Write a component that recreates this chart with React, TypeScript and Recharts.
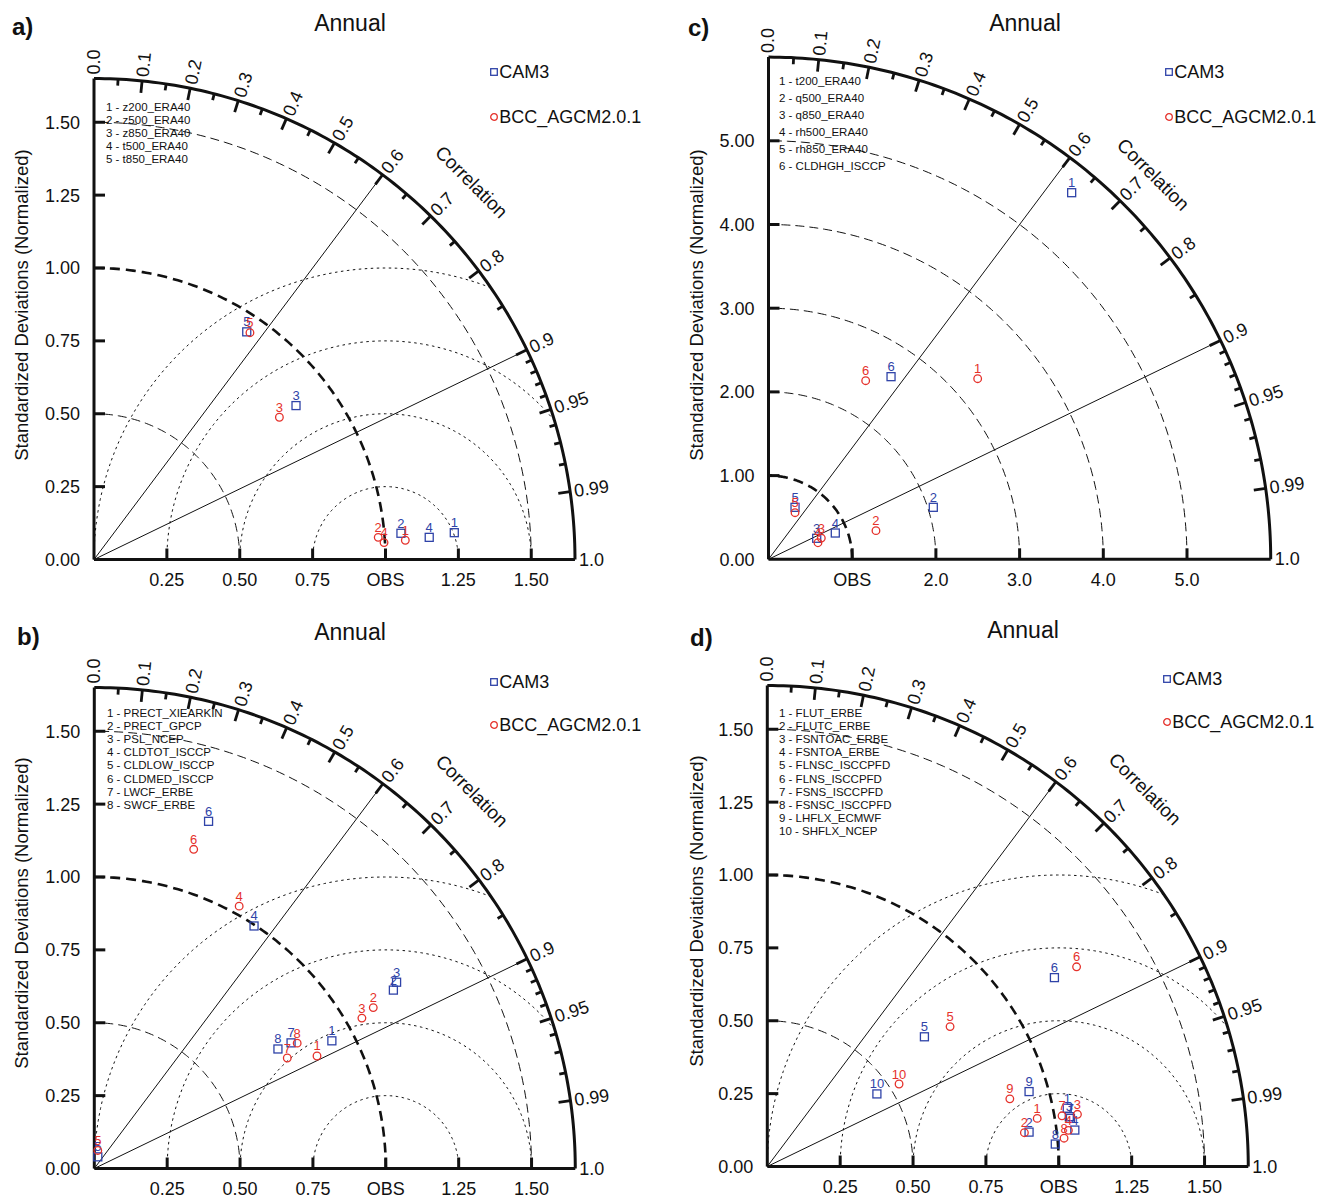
import React from "react";
import { ScatterChart, Scatter, XAxis, YAxis, ReferenceLine } from "recharts";

// =============================================================================
// Data (normalized std dev split into x / y components)
// =============================================================================

const aVariables = ["z200_ERA40", "z500_ERA40", "z850_ERA40", "t500_ERA40", "t850_ERA40"];
const aCam3X = [1.236, 1.053, 0.693, 1.15, 0.524];
const aCam3Y = [0.092, 0.09, 0.528, 0.076, 0.781];
const aBccX = [1.068, 0.975, 0.636, 0.995, 0.535];
const aBccY = [0.066, 0.076, 0.488, 0.058, 0.778];

const bVariables = [
  "PRECT_XIEARKIN",
  "PRECT_GPCP",
  "PSL_NCEP",
  "CLDTOT_ISCCP",
  "CLDLOW_ISCCP",
  "CLDMED_ISCCP",
  "LWCF_ERBE",
  "SWCF_ERBE",
];
const bCam3X = [0.815, 1.026, 1.037, 0.548, 0.012, 0.392, 0.675, 0.63];
const bCam3Y = [0.438, 0.612, 0.639, 0.832, 0.04, 1.191, 0.431, 0.41];
const bBccX = [0.764, 0.957, 0.918, 0.497, 0.012, 0.341, 0.662, 0.696];
const bBccY = [0.386, 0.552, 0.516, 0.9, 0.062, 1.095, 0.379, 0.43];

const cVariables = ["t200_ERA40", "q500_ERA40", "q850_ERA40", "rh500_ERA40", "rh850_ERA40", "CLDHGH_ISCCP"];
const cCam3X = [3.622, 1.969, 0.576, 0.798, 0.317, 1.464];
const cCam3Y = [4.38, 0.621, 0.251, 0.314, 0.621, 2.182];
const cBccX = [2.499, 1.284, 0.631, 0.591, 0.317, 1.161];
const cBccY = [2.158, 0.342, 0.254, 0.198, 0.557, 2.134];

const dVariables = [
  "FLUT_ERBE",
  "FLUTC_ERBE",
  "FSNTOAC_ERBE",
  "FSNTOA_ERBE",
  "FLNSC_ISCCPFD",
  "FLNS_ISCCPFD",
  "FSNS_ISCCPFD",
  "FSNSC_ISCCPFD",
  "LHFLX_ECMWF",
  "SHFLX_NCEP",
];
const dCam3X = [1.029, 0.898, 1.036, 1.055, 0.539, 0.985, 1.04, 0.988, 0.898, 0.376];
const dCam3Y = [0.2, 0.118, 0.171, 0.125, 0.445, 0.648, 0.165, 0.077, 0.257, 0.249];
const dBccX = [0.926, 0.882, 1.064, 1.033, 0.627, 1.061, 1.011, 1.018, 0.832, 0.452];
const dBccY = [0.165, 0.116, 0.179, 0.124, 0.48, 0.685, 0.174, 0.097, 0.232, 0.283];

// axis ticks
const unitXTicks = [0.25, 0.5, 0.75, 1, 1.25, 1.5];
const unitYTicks = [0, 0.25, 0.5, 0.75, 1, 1.25, 1.5];
const wideXTicks = [1, 2, 3, 4, 5];
const wideYTicks = [0, 1, 2, 3, 4, 5];

// correlation ticks on the outer arc
const corrMajor = [0, 0.1, 0.2, 0.3, 0.4, 0.5, 0.6, 0.7, 0.8, 0.9, 0.95, 0.99, 1.0];
const corrMajorLabels = ["0.0", "0.1", "0.2", "0.3", "0.4", "0.5", "0.6", "0.7", "0.8", "0.9", "0.95", "0.99", "1.0"];
const corrMinor = [0.05, 0.15, 0.25, 0.35, 0.45, 0.55, 0.65, 0.75, 0.85, 0.91, 0.92, 0.93, 0.94, 0.96, 0.97, 0.98];
const corrRays = [0.6, 0.9];

// reference arcs
const unitStdArcs = [0.5, 1.5];
const wideStdArcs = [2, 3, 4, 5];
const unitRmsArcs = [0.25, 0.5, 0.75, 1.0];

const seriesNames = ["CAM3", "BCC_AGCM2.0.1"];

// =============================================================================
// Styles
// =============================================================================

const FONT = '"Liberation Sans", Arial, Helvetica, sans-serif';
const INK = "#111";
const CAM3_COLOR = "#2f43a8";
const BCC_COLOR = "#e5312b";
const Y_AXIS_W = 60;
const X_AXIS_H = 28;
const AXIS_TICK_PX = 11;
const DEG = Math.PI / 180;

// =============================================================================
// Geometry helpers
// =============================================================================

type Pt = { x: number; y: number; [k: string]: any };

const clamp = (v: number, lo: number, hi: number) => Math.min(hi, Math.max(lo, v));

function arcPoints(cx: number, r: number, fromDeg: number, toDeg: number, max: number, steps = 140): Pt[] {
  const pts: Pt[] = [];
  for (let i = 0; i <= steps; i++) {
    const t = (fromDeg + ((toDeg - fromDeg) * i) / steps) * DEG;
    pts.push({ x: clamp(cx + r * Math.cos(t), 0, max), y: clamp(r * Math.sin(t), 0, max) });
  }
  return pts;
}

// RMS circle around OBS (1, 0), cut at the outer arc
function rmsArc(rho: number, max: number): Pt[] {
  const c = (max * max - 1 - rho * rho) / (2 * rho);
  const start = c >= 1 ? 0 : Math.acos(c) / DEG;
  return arcPoints(1, rho, start, 180, max);
}

function onArc(corr: number, max: number) {
  const theta = Math.acos(corr);
  return { x: clamp(max * Math.cos(theta), 0, max), y: clamp(max * Math.sin(theta), 0, max), theta };
}

// =============================================================================
// Shapes
// =============================================================================

const NoShape = () => <g />;

// short stroke from a point on the outer arc towards the origin
function ArcTick(props: any) {
  const { cx, cy, payload } = props;
  const t = payload.theta;
  return (
    <line
      x1={cx}
      y1={cy}
      x2={cx - payload.len * Math.cos(t)}
      y2={cy + payload.len * Math.sin(t)}
      stroke={INK}
      strokeWidth={2.8}
    />
  );
}

function CorrLabel(props: any) {
  const { cx, cy, payload } = props;
  const t = payload.theta;
  const x = cx + 4 * Math.cos(t);
  const y = cy - 4 * Math.sin(t);
  return (
    <text
      x={x}
      y={y}
      transform={`rotate(${-t / DEG} ${x} ${y})`}
      textAnchor="start"
      dominantBaseline="central"
      fontSize={18}
      fontFamily={FONT}
      fill={INK}
    >
      {payload.text}
    </text>
  );
}

function CorrTitle(props: any) {
  const { cx, cy, payload } = props;
  const t = payload.theta;
  const x = cx + payload.offset * Math.cos(t);
  const y = cy - payload.offset * Math.sin(t);
  return (
    <text
      x={x}
      y={y}
      transform={`rotate(45 ${x} ${y})`}
      textAnchor="middle"
      dominantBaseline="central"
      fontSize={19}
      fontFamily={FONT}
      fill={INK}
    >
      Correlation
    </text>
  );
}

function ModelMarker(props: any) {
  const { cx, cy, payload } = props;
  const color = payload.color;
  return (
    <g>
      {payload.kind === "square" ? (
        <rect x={cx - 4} y={cy - 4} width={8} height={8} fill="none" stroke={color} strokeWidth={1.3} />
      ) : (
        <circle cx={cx} cy={cy} r={3.8} fill="none" stroke={color} strokeWidth={1.3} />
      )}
      <text x={cx} y={cy - 5.5} textAnchor="middle" fontSize={13} fontFamily={FONT} fill={color}>
        {payload.label}
      </text>
    </g>
  );
}

// =============================================================================
// Panel configuration
// =============================================================================

interface PanelConfig {
  letter: string;
  left: number;
  top: number;
  width: number;
  height: number;
  ox: number;
  oy: number;
  scale: number;
  max: number;
  xTicks: number[];
  yTicks: number[];
  xDigits: number;
  stdArcs: number[];
  rmsArcs: number[];
  corrOffset: number;
  variables: string[];
  cam3X: number[];
  cam3Y: number[];
  bccX: number[];
  bccY: number[];
  listLeft: number;
  listTop: number;
  listStep: number;
  legendX: number;
  legendY: [number, number];
  titleX: number;
  titleY: number;
  letterX: number;
  letterY: number;
  yLabelX: number;
  yLabelY: number;
}

const panels: PanelConfig[] = [
  {
    letter: "a)", left: 0, top: 0, width: 660, height: 600, ox: 94, oy: 559.5, scale: 291.5, max: 1.65,
    xTicks: unitXTicks, yTicks: unitYTicks, xDigits: 2, stdArcs: unitStdArcs, rmsArcs: unitRmsArcs, corrOffset: 53,
    variables: aVariables, cam3X: aCam3X, cam3Y: aCam3Y, bccX: aBccX, bccY: aBccY,
    listLeft: 106, listTop: 107.3, listStep: 13.2, legendX: 494.3, legendY: [72.3, 116.7],
    titleX: 350, titleY: 23, letterX: 12, letterY: 27, yLabelX: 22, yLabelY: 305,
  },
  {
    letter: "c)", left: 660, top: 0, width: 659, height: 600, ox: 768.5, oy: 559.3, scale: 83.7, max: 6,
    xTicks: wideXTicks, yTicks: wideYTicks, xDigits: 1, stdArcs: wideStdArcs, rmsArcs: [], corrOffset: 42,
    variables: cVariables, cam3X: cCam3X, cam3Y: cCam3Y, bccX: cBccX, bccY: cBccY,
    listLeft: 779, listTop: 81.7, listStep: 16.9, legendX: 1169.3, legendY: [72.3, 116.7],
    titleX: 1025, titleY: 23, letterX: 688, letterY: 28, yLabelX: 697, yLabelY: 305,
  },
  {
    letter: "b)", left: 0, top: 600, width: 660, height: 598, ox: 94.3, oy: 1168.5, scale: 291.5, max: 1.65,
    xTicks: unitXTicks, yTicks: unitYTicks, xDigits: 2, stdArcs: unitStdArcs, rmsArcs: unitRmsArcs, corrOffset: 53,
    variables: bVariables, cam3X: bCam3X, cam3Y: bCam3Y, bccX: bBccX, bccY: bBccY,
    listLeft: 107, listTop: 713.3, listStep: 13.2, legendX: 494.3, legendY: [682, 725],
    titleX: 350, titleY: 632, letterX: 17, letterY: 637, yLabelX: 22, yLabelY: 913,
  },
  {
    letter: "d)", left: 660, top: 600, width: 659, height: 598, ox: 767.3, oy: 1166.5, scale: 291.5, max: 1.65,
    xTicks: unitXTicks, yTicks: unitYTicks, xDigits: 2, stdArcs: unitStdArcs, rmsArcs: unitRmsArcs, corrOffset: 53,
    variables: dVariables, cam3X: dCam3X, cam3Y: dCam3Y, bccX: dBccX, bccY: dBccY,
    listLeft: 779, listTop: 713.3, listStep: 13.2, legendX: 1167.3, legendY: [679, 722],
    titleX: 1023, titleY: 630, letterX: 690, letterY: 638, yLabelX: 697, yLabelY: 911,
  },
];

// =============================================================================
// Panel
// =============================================================================

function TaylorPanel({ cfg }: { cfg: PanelConfig }) {
  const { max } = cfg;
  const size = max * cfg.scale;
  const lox = cfg.ox - cfg.left;
  const loy = cfg.oy - cfg.top;
  const margin = {
    left: lox - Y_AXIS_W,
    top: loy - size,
    right: cfg.width - lox - size,
    bottom: cfg.height - loy - X_AXIS_H,
  };
  const tickLen = AXIS_TICK_PX / cfg.scale;

  const outer = arcPoints(0, max, 0, 90, max);
  const rays = corrRays.map((c) => [{ x: 0, y: 0 }, onArc(c, max)]);
  const arcTicks = [
    ...corrMajor.filter((c) => c > 0 && c < 1).map((c) => ({ ...onArc(c, max), len: 12 })),
    ...corrMinor.map((c) => ({ ...onArc(c, max), len: 6.5 })),
  ];
  const corrLabels = corrMajor.map((c, i) => ({ ...onArc(c, max), text: corrMajorLabels[i] }));
  const corrTitle = [{ ...onArc(Math.cos(45 * DEG), max), offset: cfg.corrOffset }];

  const cam3 = cfg.cam3X.map((x, i) => ({ x, y: cfg.cam3Y[i], label: String(i + 1), color: CAM3_COLOR, kind: "square" }));
  const bcc = cfg.bccX.map((x, i) => ({ x, y: cfg.bccY[i], label: String(i + 1), color: BCC_COLOR, kind: "circle" }));

  const xFmt = (v: number) => (Math.abs(v - 1) < 1e-9 ? "OBS" : v.toFixed(cfg.xDigits));
  const yFmt = (v: number) => v.toFixed(2);
  const tickStyle = { fontSize: 18, fill: INK, fontFamily: FONT };

  const line = (strokeWidth: number, dash?: string) => ({
    stroke: INK,
    strokeWidth,
    strokeDasharray: dash,
    fill: "none",
  });

  return (
    <>
      {/* panel letter, title, axis title */}
      <div
        style={{
          position: "absolute", left: cfg.letterX, top: cfg.letterY, transform: "translateY(-50%)",
          fontSize: 24, fontWeight: "bold", lineHeight: 1,
        }}
      >
        {cfg.letter}
      </div>
      <div
        style={{
          position: "absolute", left: cfg.titleX, top: cfg.titleY, transform: "translate(-50%, -50%)",
          fontSize: 23, lineHeight: 1, whiteSpace: "nowrap",
        }}
      >
        Annual
      </div>
      <div
        style={{
          position: "absolute", left: cfg.yLabelX, top: cfg.yLabelY,
          transform: "translate(-50%, -50%) rotate(-90deg)", fontSize: 18.5, lineHeight: 1, whiteSpace: "nowrap",
        }}
      >
        Standardized Deviations (Normalized)
      </div>

      {/* variable key */}
      <div style={{ position: "absolute", left: cfg.listLeft, top: cfg.listTop - cfg.listStep / 2, fontSize: 11.5 }}>
        {cfg.variables.map((v, i) => (
          <div key={v} style={{ height: cfg.listStep, lineHeight: `${cfg.listStep}px`, whiteSpace: "nowrap" }}>
            {`${i + 1} - ${v}`}
          </div>
        ))}
      </div>

      {/* legend */}
      {seriesNames.map((name, i) => (
        <div
          key={name}
          style={{
            position: "absolute", left: cfg.legendX - 4, top: cfg.legendY[i], transform: "translateY(-50%)",
            display: "flex", alignItems: "center", fontSize: 18, lineHeight: 1, whiteSpace: "nowrap",
          }}
        >
          <svg width={8} height={8} style={{ marginRight: 1 }}>
            {i === 0 ? (
              <rect x={0.7} y={0.7} width={6.6} height={6.6} fill="none" stroke={CAM3_COLOR} strokeWidth={1.3} />
            ) : (
              <circle cx={4} cy={4} r={3.3} fill="none" stroke={BCC_COLOR} strokeWidth={1.3} />
            )}
          </svg>
          <span>{name}</span>
        </div>
      ))}

      <div style={{ position: "absolute", left: cfg.left, top: cfg.top }}>
        <ScatterChart width={cfg.width} height={cfg.height} margin={margin} style={{ fontFamily: FONT }}>
          <XAxis
            type="number"
            dataKey="x"
            domain={[0, max]}
            ticks={cfg.xTicks}
            interval={0}
            tickFormatter={xFmt}
            tick={tickStyle}
            tickLine={false}
            tickSize={6}
            tickMargin={8}
            height={X_AXIS_H}
            axisLine={{ stroke: INK, strokeWidth: 3 }}
          />
          <YAxis
            type="number"
            dataKey="y"
            domain={[0, max]}
            ticks={cfg.yTicks}
            interval={0}
            tickFormatter={yFmt}
            tick={tickStyle}
            tickLine={false}
            tickSize={6}
            tickMargin={8}
            width={Y_AXIS_W}
            axisLine={{ stroke: INK, strokeWidth: 3 }}
          />

          {cfg.rmsArcs.map((r) => (
            <Scatter
              key={`rms-${r}`}
              data={rmsArc(r, max)}
              line={line(1, "2.5 3.5")}
              shape={NoShape}
              legendType="none"
              isAnimationActive={false}
            />
          ))}
          {cfg.stdArcs.map((r) => (
            <Scatter
              key={`std-${r}`}
              data={arcPoints(0, r, 0, 90, max)}
              line={line(1, "9 5")}
              shape={NoShape}
              legendType="none"
              isAnimationActive={false}
            />
          ))}
          <Scatter
            data={arcPoints(0, 1, 0, 90, max)}
            line={line(2.6, "10 6")}
            shape={NoShape}
            legendType="none"
            isAnimationActive={false}
          />
          {rays.map((pts, i) => (
            <Scatter
              key={`ray-${i}`}
              data={pts}
              line={line(1)}
              shape={NoShape}
              legendType="none"
              isAnimationActive={false}
            />
          ))}

          {/* inward ticks on both axes */}
          {cfg.xTicks.map((v) => (
            <ReferenceLine
              key={`xt-${v}`}
              segment={[{ x: v, y: 0 }, { x: v, y: tickLen }]}
              stroke={INK}
              strokeWidth={3}
            />
          ))}
          {cfg.yTicks
            .filter((v) => v > 0)
            .map((v) => (
              <ReferenceLine
                key={`yt-${v}`}
                segment={[{ x: 0, y: v }, { x: tickLen, y: v }]}
                stroke={INK}
                strokeWidth={3}
              />
            ))}

          <Scatter data={outer} line={line(3)} shape={NoShape} legendType="none" isAnimationActive={false} />
          <Scatter data={arcTicks} shape={ArcTick} legendType="none" isAnimationActive={false} />
          <Scatter data={corrLabels} shape={CorrLabel} legendType="none" isAnimationActive={false} />
          <Scatter data={corrTitle} shape={CorrTitle} legendType="none" isAnimationActive={false} />

          <Scatter name={seriesNames[0]} data={cam3} shape={ModelMarker} legendType="none" isAnimationActive={false} />
          <Scatter name={seriesNames[1]} data={bcc} shape={ModelMarker} legendType="none" isAnimationActive={false} />
        </ScatterChart>
      </div>
    </>
  );
}

export default function App() {
  return (
    <div
      style={{
        position: "absolute", left: 0, top: 0, width: 1319, height: 1198, overflow: "hidden",
        background: "#fff", fontFamily: FONT, color: INK,
      }}
    >
      {panels.map((p) => (
        <TaylorPanel key={p.letter} cfg={p} />
      ))}
    </div>
  );
}
